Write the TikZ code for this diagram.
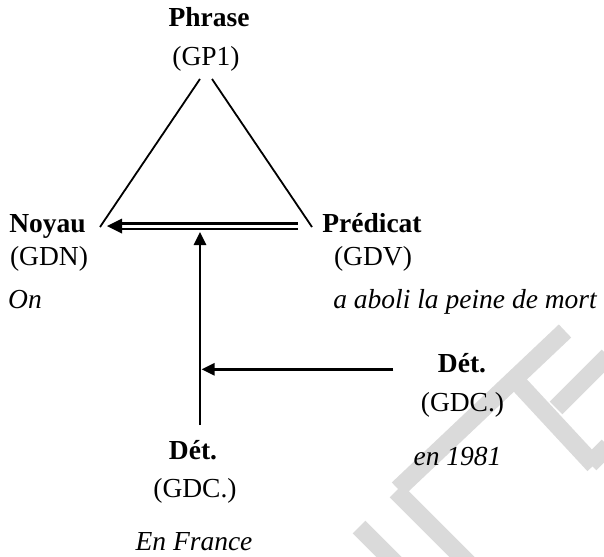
\documentclass[tikz,border=0pt]{standalone}
\usepackage{fontspec}
\setmainfont{Liberation Serif}
\usetikzlibrary{arrows.meta}
\definecolor{wmark}{RGB}{218,218,218}
\begin{document}
\begin{tikzpicture}[x=1pt,y=-1pt,
  lbl/.style={font=\fontsize{27.5}{33}\selectfont, inner sep=0pt, anchor=base},
  bld/.style={lbl, font=\fontsize{27.5}{33}\selectfont\bfseries},
  itl/.style={lbl, font=\fontsize{27.5}{33}\selectfont\itshape},
  triline/.style={line width=1.8pt},
  arr/.style={line width=2.8pt, -{Triangle[length=13pt,width=12pt]}},
  dbl/.style={line width=2.6pt, double distance=3pt},
  wm/.style={draw=wmark, line width=18pt},
]
\useasboundingbox (0,0) rectangle (604,556);
% faint watermark (background)
\begin{scope}
\clip (0,0) rectangle (604,556);
\draw[wm] (359,527) -- (400,568);
\draw[wm] (396,491) -- (474,569);
\draw[wm] (398,489) -- (565,331);
\draw[wm] (518,383) -- (594,465);
\draw[wm] (556,408) -- (608,356);
\draw[wm] (590,464) -- (608,446);
\end{scope}
% texts
\node[bld] (phrase) at (209,26.7) {Phrase};
\node[lbl] (gp1) at (206,65.3) {(GP1)};
\node[bld] (noyau) at (47.5,232.7) {Noyau};
\node[lbl] (gdn) at (49,265) {(GDN)};
\node[bld] (pred) at (372,232.7) {Prédicat};
\node[lbl] (gdv) at (373,265) {(GDV)};
\node[itl] (on) at (25,308.5) {On};
\node[itl] (aboli) at (465,308.5) {a aboli la peine de mort};
\node[bld] (det1) at (462,372.7) {Dét.};
\node[lbl] (gdc1) at (462.5,411.7) {(GDC.)};
\node[itl] (en1981) at (457.5,465.7) {en 1981};
\node[bld] (det2) at (193,459) {Dét.};
\node[lbl] (gdc2) at (195,497) {(GDC.)};
\node[itl] (enfrance) at (194,550) {En France};
% coordinates
\coordinate (topL) at (200,79);
\coordinate (botL) at (100,227);
\coordinate (topR) at (212,79);
\coordinate (botR) at (312,227);
\coordinate (dblR) at (298,226.1);
\coordinate (dblB) at (119,226.1);
\coordinate (dblL) at (107,226.1);
\coordinate (vBot) at (200,425);
\coordinate (vTip) at (200,232);
\coordinate (hR) at (393.3,369.3);
\coordinate (hTip) at (201.5,369.3);
% triangle
\draw[triline] (topL) -- (botL);
\draw[triline] (topR) -- (botR);
% double arrow
\draw[dbl] (dblR) -- (dblB);
\fill (dblL) -- (122,218.6) -- (122,233.6) -- cycle;
% simple arrows
\draw[arr] (vBot) -- (vTip);
\draw[arr] (hR) -- (hTip);
\end{tikzpicture}
\end{document}
